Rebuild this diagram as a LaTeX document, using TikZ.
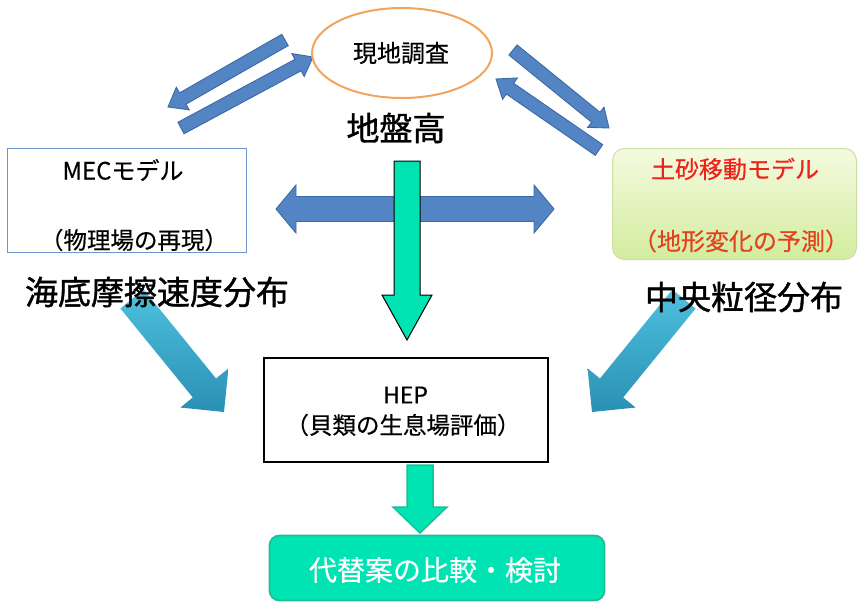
\documentclass[tikz,border=0pt]{standalone}
\usepackage{fontspec}
\newfontfamily\jp{Noto Sans CJK JP}
\newfontfamily\jpb[FakeBold=1.2]{Noto Sans CJK JP}
\newfontfamily\jpm[FakeBold=0.4]{Noto Sans CJK JP}
\usetikzlibrary{calc,shapes.geometric}
\definecolor{arrowblue}{HTML}{5385C4}
\definecolor{arrowblueline}{HTML}{3C68A4}
\definecolor{surveyorange}{HTML}{F3A35C}
\definecolor{mecblue}{HTML}{6E96C8}
\definecolor{aqua}{HTML}{00E4B4}
\definecolor{aqualine}{HTML}{1CBE98}
\definecolor{cyantop}{HTML}{4EC0DE}
\definecolor{cyanbot}{HTML}{2A90B4}
\definecolor{limetop}{HTML}{F4FADF}
\definecolor{limebot}{HTML}{D3EC9E}
\definecolor{limeline}{HTML}{C9E0A6}
\definecolor{redtxt}{HTML}{F0201A}
\definecolor{redtxt2}{HTML}{E2421E}
\newcommand\fatarrow[6]{%
  \coordinate (fah) at ($(#3)!#6!(#2)$);
  \path[#1] ($(#2)!#4!90:(#3)$) -- ($(fah)!#4!90:(#3)$) -- ($(fah)!#5!90:(#3)$) -- (#3)
    -- ($(fah)!#5!-90:(#3)$) -- ($(fah)!#4!-90:(#3)$) -- ($(#2)!#4!-90:(#3)$) -- cycle;
}
\newcommand\fs[1]{\fontsize{#1}{#1}\selectfont}
\tikzset{
  bluearrow/.style={fill=arrowblue, draw=arrowblueline, line width=0.9pt, line join=miter},
  greenarrow/.style={fill=aqua, draw=black, line width=1pt, line join=miter},
  greenarrow2/.style={fill=aqua, draw=aqualine, line width=1.5pt, line join=miter},
  cyanarrow/.style={top color=cyantop, bottom color=cyanbot},
  txt/.style={inner sep=0pt, font=\jpm},
  biglabel/.style={inner sep=0pt, font=\jpb\fs{33}},
}
\begin{document}
\begin{tikzpicture}[x=1pt,y=-1pt]
\useasboundingbox (0,0) rectangle (859,603);
% arrow end coordinates
\coordinate (la1s) at (285,40);  \coordinate (la1e) at (168,107);
\coordinate (la2s) at (181,128); \coordinate (la2e) at (313,57);
\coordinate (ra1s) at (513,50);  \coordinate (ra1e) at (609,128);
\coordinate (ra2s) at (599,150); \coordinate (ra2e) at (496,79);
\coordinate (cls) at (132,299);  \coordinate (cle) at (224,412);
\coordinate (crs) at (684,299);  \coordinate (cre) at (592,412);
\coordinate (gs) at (407,161);   \coordinate (ge) at (407,340);
\coordinate (g2s) at (420,465);  \coordinate (g2e) at (420,533);
\coordinate (hl) at (276,209);   \coordinate (hr) at (554,209);
% cyan arrows
\fatarrow{cyanarrow}{cls}{cle}{15pt}{31pt}{31pt}
\fatarrow{cyanarrow}{crs}{cre}{15pt}{31pt}{31pt}
% blue diagonal arrows
\fatarrow{bluearrow}{la1s}{la1e}{6.5pt}{13pt}{17pt}
\fatarrow{bluearrow}{la2s}{la2e}{6.5pt}{13pt}{17pt}
\fatarrow{bluearrow}{ra1s}{ra1e}{6.5pt}{13pt}{17pt}
\fatarrow{bluearrow}{ra2s}{ra2e}{6.5pt}{13pt}{17pt}
% horizontal double arrow
\path[bluearrow] (hl) -- (296,185) -- (296,196.5) -- (534,196.5) -- (534,185) -- (hr)
  -- (534,233) -- (534,221.5) -- (296,221.5) -- (296,233) -- cycle;
% green arrows
\fatarrow{greenarrow}{gs}{ge}{13pt}{25pt}{45pt}
\fatarrow{greenarrow2}{g2s}{g2e}{13pt}{27pt}{26pt}
% nodes
\node[ellipse, draw=surveyorange, line width=2pt, fill=white, minimum width=180pt, minimum height=90pt, inner sep=0pt] (survey) at (402,53) {};
\node[txt, font=\jpm\fs{24}] (surveyt) at (401,53) {現地調査};
\node[biglabel] (ground) at (396,128) {地盤高};
\node[draw=mecblue, line width=1.2pt, minimum width=239pt, minimum height=104pt, inner sep=0pt] (mec) at (127,200.5) {};
\node[txt, font=\jpm\fs{24}] (mect1) at (123,170) {MECモデル};
\node[txt, font=\jpm\fs{23.5}] (mect2) at (134,240) {（物理場の再現）};
\node[draw=limeline, line width=1pt, rounded corners=12pt, top color=limetop, bottom color=limebot, minimum width=244pt, minimum height=111pt, inner sep=0pt] (sed) at (734.5,204) {};
\node[txt, font=\jpm\fs{24}, text=redtxt] (sedt1) at (735,169) {土砂移動モデル};
\node[txt, font=\jpm\fs{24}, text=redtxt2] (sedt2) at (741,241) {（地形変化の予測）};
\node[biglabel] (friction) at (157,292) {海底摩擦速度分布};
\node[biglabel] (grain) at (744,297) {中央粒径分布};
\node[draw=black, line width=2pt, minimum width=284pt, minimum height=104pt, inner sep=0pt] (hep) at (405.5,409.5) {};
\node[txt, font=\jpm\fs{23}] (hept1) at (405.5,395) {HEP};
\node[txt, font=\jpm\fs{23.5}] (hept2) at (403,425) {（貝類の生息場評価）};
\node[draw=aqualine, line width=1.8pt, fill=aqua, rounded corners=10pt, minimum width=335pt, minimum height=65pt, inner sep=0pt] (alt) at (437,568) {};
\node[txt, font=\jpm\fs{28}, text=white] (altt) at (435,570) {代替案の比較・検討};
\end{tikzpicture}
\end{document}
